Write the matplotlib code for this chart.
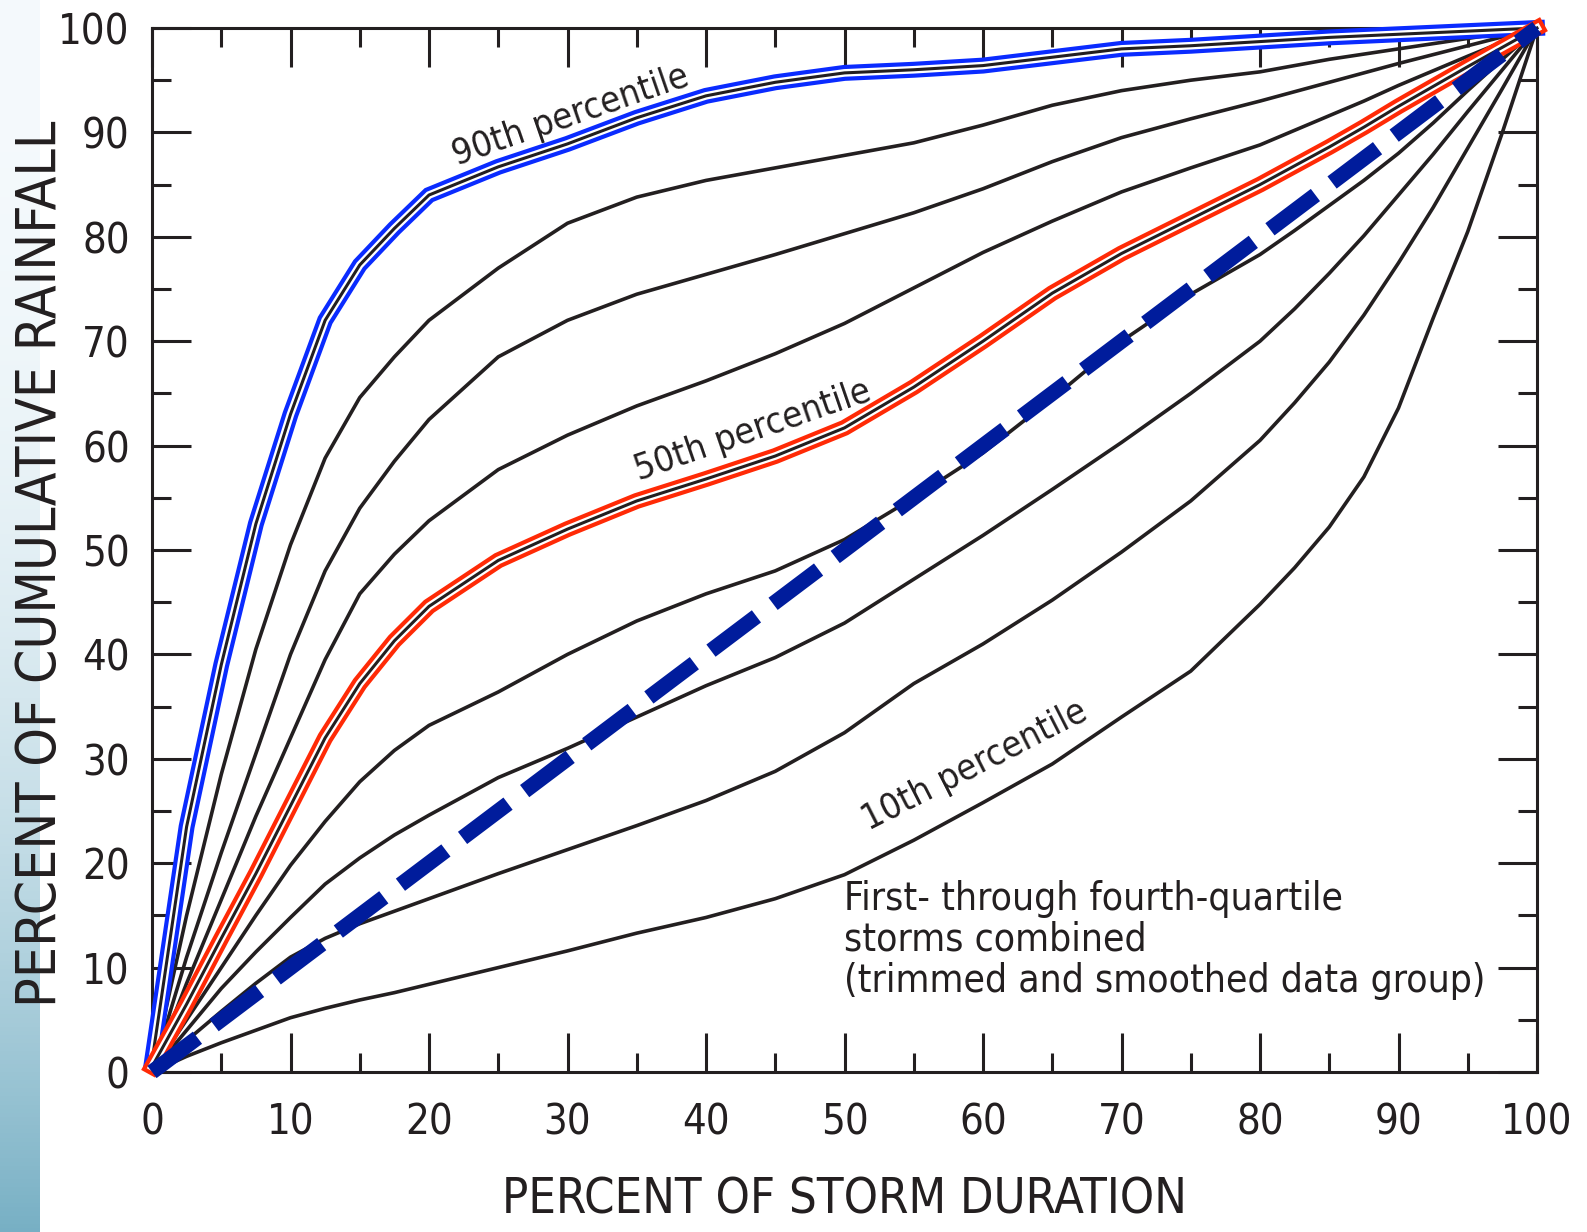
import numpy as np
import matplotlib
matplotlib.use("Agg")
import matplotlib.pyplot as plt
from matplotlib import font_manager as fm

# percent of storm duration, shared by all percentile curves
duration = [0, 2.5, 5, 7.5, 10, 12.5, 15, 17.5, 20, 25, 30, 35, 40, 45, 50,
            55, 60, 65, 70, 75, 80, 82.5, 85, 87.5, 90, 92.5, 95, 97.5, 100]

# percent of cumulative rainfall, one list per percentile
p90 = [1, 23.5, 39, 52.5, 63, 72, 77.3, 80.8, 84, 86.7, 88.9, 91.4, 93.5, 94.8, 95.7,
       96, 96.4, 97.2, 98, 98.3, 98.7, 98.9, 99.1, 99.25, 99.4, 99.55, 99.7, 99.85, 100]
p80 = [0, 15, 28.5, 40.5, 50.5, 58.8, 64.6, 68.5, 72, 77, 81.3, 83.8, 85.4, 86.6, 87.8,
       89, 90.7, 92.6, 94, 95, 95.8, 96.4, 97, 97.5, 98, 98.5, 99, 99.5, 100]
p70 = [0, 11, 21, 30.5, 40, 48, 54, 58.5, 62.5, 68.5, 72, 74.5, 76.4, 78.3, 80.3,
       82.3, 84.6, 87.2, 89.5, 91.3, 93, 93.9, 94.8, 95.7, 96.6, 97.45, 98.3, 99.15, 100]
p60 = [0, 8.5, 16.5, 24.5, 32, 39.5, 45.8, 49.6, 52.8, 57.7, 61, 63.8, 66.2, 68.8, 71.7,
       75.1, 78.5, 81.5, 84.3, 86.6, 88.8, 90.2, 91.6, 93, 94.5, 95.9, 97.3, 98.65, 100]
p50 = [0.5, 6.5, 12.8, 19, 25.5, 32, 37.2, 41.3, 44.6, 49, 52, 54.7, 56.8, 59, 61.7,
       65.6, 70, 74.6, 78.4, 81.7, 85, 86.8, 88.6, 90.5, 92.5, 94.4, 96.3, 98.15, 100]
p40 = [0, 5, 10, 15, 19.8, 24, 27.8, 30.8, 33.2, 36.4, 40, 43.2, 45.8, 48, 51,
       55, 59.3, 64.5, 70, 74.5, 78.3, 80.6, 83, 85.4, 88, 90.9, 94, 97, 100]
p30 = [0, 4, 8, 11.5, 14.8, 18, 20.5, 22.7, 24.6, 28.2, 31, 34, 37, 39.7, 43,
       47.2, 51.4, 55.8, 60.3, 65, 70, 73.1, 76.5, 80.1, 84, 87.9, 92, 96, 100]
p20 = [0, 3, 5.8, 8.5, 11, 12.8, 14.2, 15.4, 16.6, 19, 21.3, 23.6, 26, 28.8, 32.5,
       37.2, 41, 45.2, 49.8, 54.7, 60.5, 64.1, 68, 72.5, 77.5, 82.8, 88.5, 94.2, 100]
p10 = [0, 1.5, 2.8, 4, 5.2, 6.1, 6.9, 7.6, 8.4, 10, 11.6, 13.3, 14.8, 16.6, 18.9,
       22.2, 25.8, 29.5, 34, 38.4, 44.8, 48.3, 52.2, 57, 63.6, 72.2, 80.5, 90, 100]

# uniform-rate reference line
uniform_x = [0, 100]
uniform_y = [0, 100]

curve_labels = ["90th percentile", "50th percentile", "10th percentile"]

# condensed font if there is one
names = {f.name for f in fm.fontManager.ttflist}
if "Liberation Sans Narrow" in names:
    plt.rcParams["font.family"] = ["Liberation Sans Narrow", "DejaVu Sans"]
else:
    plt.rcParams["font.family"] = ["DejaVu Sans"]
    plt.rcParams["font.stretch"] = "condensed"
plt.rcParams["lines.scale_dashes"] = False

INK = "#231f20"
W, H = 1587, 1232
fig = plt.figure(figsize=(W / 100, H / 100), dpi=100)

# light teal strip down the left edge
strip = fig.add_axes([0, 0, 40 / W, 1])
t = np.linspace(0, 1, 300) ** 2.4
top = np.array([0.96, 0.98, 0.99])
bot = np.array([0.47, 0.69, 0.77])
grad = top[None, :] * (1 - t[:, None]) + bot[None, :] * t[:, None]
strip.imshow(grad[:, None, :], aspect="auto", extent=[0, 1, 0, 1])
strip.axis("off")

ax = fig.add_axes([152 / W, 1 - 1072 / H, (1537 - 152) / W, (1072 - 28) / H])

for ys in [p10, p20, p30, p40, p60, p70, p80]:
    ax.plot(duration, ys, color=INK, lw=2.6, solid_joinstyle="round", clip_on=False, zorder=3)

# highlighted curves: coloured outline, white gap, black core
for ys, col in [(p90, "#0a2bff"), (p50, "#ff2a06")]:
    ax.plot(duration, ys, color=col, lw=11.5, solid_joinstyle="miter", clip_on=False, zorder=4)
    ax.plot(duration, ys, color="white", lw=5.5, solid_joinstyle="miter", clip_on=False, zorder=4)
    ax.plot(duration, ys, color=INK, lw=2.2, solid_joinstyle="miter", clip_on=False, zorder=4)

ax.plot(uniform_x, uniform_y, color="#001c9c", lw=11, dashes=(41, 15),
        dash_capstyle="butt", clip_on=False, zorder=5)

ax.text(30.2, 91.6, curve_labels[0], fontsize=26, rotation=19, color=INK,
        ha="center", va="center", rotation_mode="anchor")
ax.text(43.4, 61.4, curve_labels[1], fontsize=26, rotation=19, color=INK,
        ha="center", va="center", rotation_mode="anchor")
ax.text(59.4, 29.3, curve_labels[2], fontsize=26, rotation=27, color=INK,
        ha="center", va="center", rotation_mode="anchor")

ax.text(50, 18.4, "First- through fourth-quartile\nstorms combined\n(trimmed and smoothed data group)",
        fontsize=28, color=INK, ha="left", va="top", linespacing=1.1)

ax.set_xlim(0, 100)
ax.set_ylim(0, 100)
ax.set_xticks(range(0, 101, 10))
ax.set_yticks(range(0, 101, 10))
ax.set_xticks(range(5, 100, 10), minor=True)
ax.set_yticks(range(5, 100, 10), minor=True)
ax.tick_params(which="both", direction="in", top=True, right=True, color=INK, width=2.2)
ax.tick_params(which="major", length=28, labelsize=30, labelcolor=INK)
ax.tick_params(which="minor", length=13.5)
ax.tick_params(axis="x", which="major", pad=21)
ax.tick_params(axis="y", which="major", pad=16)
for s in ax.spines.values():
    s.set_linewidth(2.2)
    s.set_color(INK)

fig.text(0.532, 0.026, "PERCENT OF STORM DURATION", fontsize=35, color=INK,
         ha="center", va="center")
fig.text(0.026, 0.542, "PERCENT OF CUMULATIVE RAINFALL", fontsize=39.5, color=INK,
         ha="center", va="center", rotation=90)

fig.savefig("out.png", dpi=100)
